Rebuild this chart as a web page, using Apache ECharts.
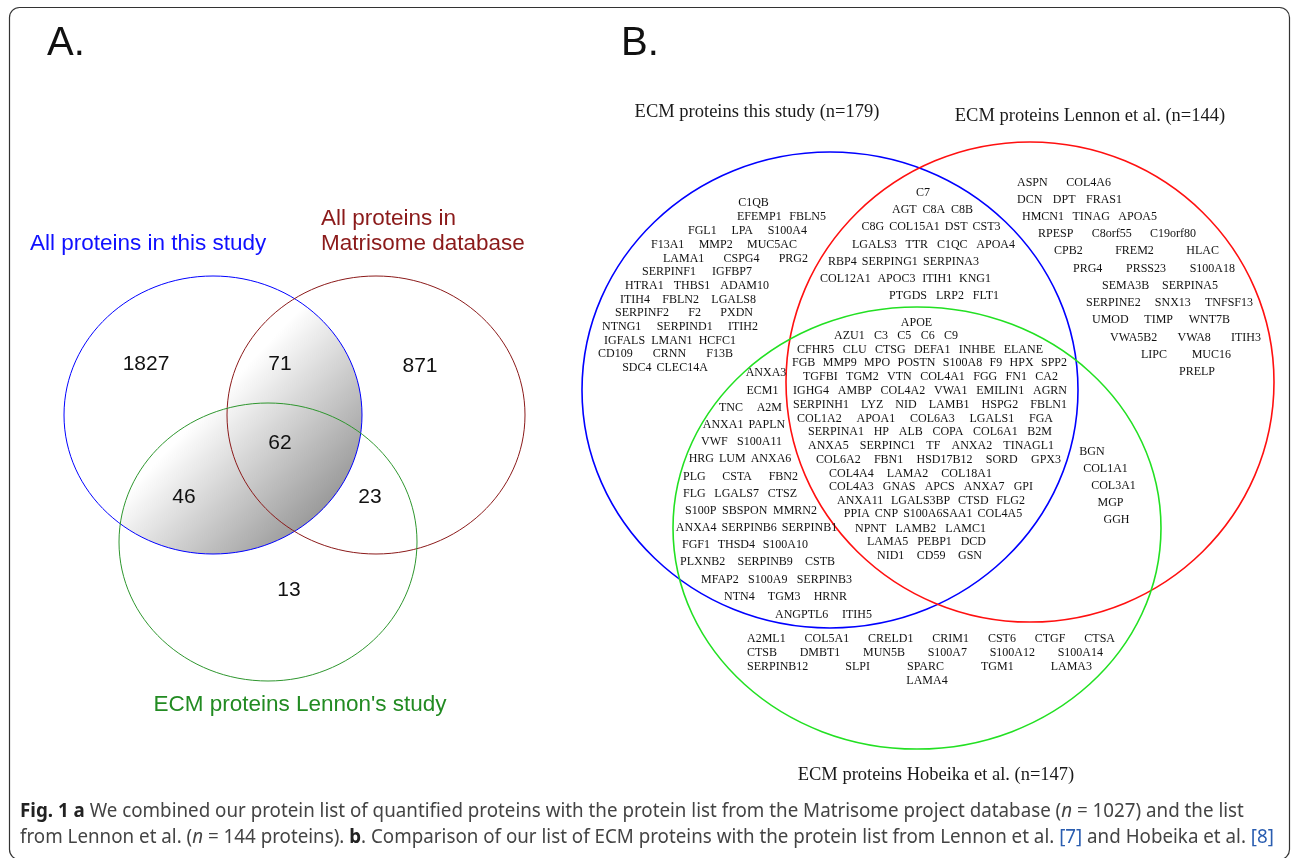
<!DOCTYPE html>
<html>
<head>
<meta charset="utf-8">
<script src="https://cdn.jsdelivr.net/npm/echarts@6/dist/echarts.min.js"></script>
<style>
html, body { margin: 0; padding: 0; background: #fff; }
#main { width: 1292px; height: 858px; }
</style>
</head>
<body>
<div id="main"></div>
<script>
// ---- panel A data ----
var setNamesA = ['All proteins in this study', 'All proteins in\nMatrisome database', "ECM proteins Lennon's study"];
var regionCountsA = [1827, 71, 871, 62, 46, 23, 13];

// ---- panel B data (rows of gene names per region) ----
var setTitlesB = ['ECM proteins this study (n=179)', 'ECM proteins Lennon et al. (n=144)', 'ECM proteins Hobeika et al. (n=147)'];
var onlyThisStudy = [
	['C1QB'], ['EFEMP1', 'FBLN5'], ['FGL1', 'LPA', 'S100A4'], ['F13A1', 'MMP2', 'MUC5AC'],
	['LAMA1', 'CSPG4', 'PRG2'], ['SERPINF1', 'IGFBP7'], ['HTRA1', 'THBS1', 'ADAM10'],
	['ITIH4', 'FBLN2', 'LGALS8'], ['SERPINF2', 'F2', 'PXDN'], ['NTNG1', 'SERPIND1', 'ITIH2'],
	['IGFALS', 'LMAN1', 'HCFC1'], ['CD109', 'CRNN', 'F13B'], ['SDC4', 'CLEC14A']
];
var thisStudyAndLennon = [
	['C7'], ['AGT', 'C8A', 'C8B'], ['C8G', 'COL15A1', 'DST', 'CST3'], ['LGALS3', 'TTR', 'C1QC', 'APOA4'],
	['RBP4', 'SERPING1', 'SERPINA3'], ['COL12A1', 'APOC3', 'ITIH1', 'KNG1'], ['PTGDS', 'LRP2', 'FLT1']
];
var onlyLennon = [
	['ASPN', 'COL4A6'], ['DCN', 'DPT', 'FRAS1'], ['HMCN1', 'TINAG', 'APOA5'], ['RPESP', 'C8orf55', 'C19orf80'],
	['CPB2', 'FREM2', 'HLAC'], ['PRG4', 'PRSS23', 'S100A18'], ['SEMA3B', 'SERPINA5'],
	['SERPINE2', 'SNX13', 'TNFSF13'], ['UMOD', 'TIMP', 'WNT7B'], ['VWA5B2', 'VWA8', 'ITIH3'],
	['LIPC', 'MUC16'], ['PRELP']
];
var inAllThree = [
	['APOE'], ['AZU1', 'C3', 'C5', 'C6', 'C9'], ['CFHR5', 'CLU', 'CTSG', 'DEFA1', 'INHBE', 'ELANE'],
	['FGB', 'MMP9', 'MPO', 'POSTN', 'S100A8', 'F9', 'HPX', 'SPP2'],
	['TGFBI', 'TGM2', 'VTN', 'COL4A1', 'FGG', 'FN1', 'CA2'],
	['IGHG4', 'AMBP', 'COL4A2', 'VWA1', 'EMILIN1', 'AGRN'],
	['SERPINH1', 'LYZ', 'NID', 'LAMB1', 'HSPG2', 'FBLN1'],
	['COL1A2', 'APOA1', 'COL6A3', 'LGALS1', 'FGA'],
	['SERPINA1', 'HP', 'ALB', 'COPA', 'COL6A1', 'B2M'],
	['ANXA5', 'SERPINC1', 'TF', 'ANXA2', 'TINAGL1'],
	['COL6A2', 'FBN1', 'HSD17B12', 'SORD', 'GPX3'],
	['COL4A4', 'LAMA2', 'COL18A1'], ['COL4A3', 'GNAS', 'APCS', 'ANXA7', 'GPI'],
	['ANXA11', 'LGALS3BP', 'CTSD', 'FLG2'], ['PPIA', 'CNP', 'S100A6SAA1', 'COL4A5'],
	['NPNT', 'LAMB2', 'LAMC1'], ['LAMA5', 'PEBP1', 'DCD'], ['NID1', 'CD59', 'GSN']
];
var thisStudyAndHobeika = [
	['ANXA3'], ['ECM1'], ['TNC', 'A2M'], ['ANXA1', 'PAPLN'], ['VWF', 'S100A11'], ['HRG', 'LUM', 'ANXA6'],
	['PLG', 'CSTA', 'FBN2'], ['FLG', 'LGALS7', 'CTSZ'], ['S100P', 'SBSPON', 'MMRN2'],
	['ANXA4', 'SERPINB6', 'SERPINB1'], ['FGF1', 'THSD4', 'S100A10'], ['PLXNB2', 'SERPINB9', 'CSTB'],
	['MFAP2', 'S100A9', 'SERPINB3'], ['NTN4', 'TGM3', 'HRNR'], ['ANGPTL6', 'ITIH5']
];
var lennonAndHobeika = [['BGN'], ['COL1A1'], ['COL3A1'], ['MGP'], ['GGH']];
var onlyHobeika = [
	['A2ML1', 'COL5A1', 'CRELD1', 'CRIM1', 'CST6', 'CTGF', 'CTSA'],
	['CTSB', 'DMBT1', 'MUN5B', 'S100A7', 'S100A12', 'S100A14'],
	['SERPINB12', 'SLPI', 'SPARC', 'TGM1', 'LAMA3'],
	['LAMA4']
];

// ---- layout (pixel-space data coords) ----
// ellipses: [cx, cy, rx, ry]
var ellipsesA = [[213, 415, 149, 139], [376, 415, 149, 139], [268, 542, 149, 139]];
var ellipseColorsA = ['#0000ff', '#8b1a1a', '#2e962e'];
var setLabelPosA = [[30, 244, 'left'], [321, 231.5, 'left'], [300, 705, 'center']];
var setLabelColorsA = ['#1010ff', '#8b1a1a', '#228b22'];
var countPosA = [[146, 364], [280, 364], [420, 366], [280, 443], [184, 497], [370, 497], [289, 590]];

var ellipsesB = [[830, 390, 248, 238], [1030, 382, 244, 240], [917, 528, 244, 221]];
var ellipseColorsB = ['#0000ff', '#ff1010', '#22e022'];
var titlePosB = [[757, 112], [1090, 116], [936, 775]];

// rows: [y, left edge, right edge]
var rowsOnlyThisStudy = [[203, 740, 767], [217, 737, 826], [231, 688, 807], [245, 651, 797], [259, 663, 808], [272, 642, 752], [286, 625, 769], [300, 620, 756], [313, 615, 753], [327, 602, 758], [341, 604, 736], [354, 598, 733], [368, 623, 707]];
var rowsThisStudyAndLennon = [[193, 917, 929], [210, 892, 973], [227, 863, 999], [245, 852, 1015], [262, 828, 979], [279, 820, 991], [296, 889, 999]];
var rowsOnlyLennon = [[183, 1017, 1111], [200, 1017, 1122], [217, 1022, 1157], [234, 1038, 1196], [251, 1054, 1219], [269, 1073, 1235], [286, 1102, 1218], [303, 1086, 1253], [320, 1092, 1230], [338, 1110, 1261], [355, 1141, 1231], [372, 1181, 1213]];
var rowsAllThree = [[323, 903, 930], [336, 834, 958], [350, 797, 1043], [363, 792, 1067], [377, 803, 1058], [391, 793, 1067], [405, 793, 1067], [419, 797, 1053], [432, 808, 1052], [446, 808, 1054], [460, 816, 1061], [474, 829, 992], [487, 829, 1033], [501, 837, 1025], [514, 845, 1021], [529, 855, 986], [542, 867, 986], [556, 877, 982]];
var rowsThisStudyAndHobeika = [[373, 748, 784], [391, 748, 777], [408, 719, 782], [425, 706, 782], [442, 701, 782], [459, 690, 790], [477, 683, 798], [494, 683, 797], [511, 685, 817], [528, 685, 828], [545, 682, 808], [562, 680, 835], [580, 701, 852], [597, 724, 847], [615, 775, 872]];
var rowsLennonAndHobeika = [[452, 1081, 1103], [469, 1086, 1125], [486, 1094, 1133], [503, 1099, 1122], [520, 1105, 1128]];
var rowsOnlyHobeika = [[639, 747, 1115], [653, 747, 1103], [667, 747, 1092], [681, 906, 948]];

var geneFont = "12px 'Liberation Serif'";
var minGap = 5;
var measureCtx = document.createElement('canvas').getContext('2d');
function textWidth(str, font) {
	measureCtx.font = font;
	return measureCtx.measureText(str).width;
}

// spread the words of each row between its left and right edge
function layoutRows(rows, anchors) {
	var out = [];
	rows.forEach(function(words, i) {
		var y = anchors[i][0], left = anchors[i][1], right = anchors[i][2];
		var widths = words.map(function(w) { return textWidth(w, geneFont); });
		if (words.length === 1) {
			out.push([(left + right) / 2, y, words[0]]);
			return;
		}
		var total = widths.reduce(function(a, b) { return a + b; }, 0);
		var gap = (right - left - total) / (words.length - 1);
		var x = left;
		if (gap < minGap) {
			// too tight: keep the row centred and use a small fixed gap
			gap = minGap;
			x = (left + right) / 2 - (total + gap * (words.length - 1)) / 2;
		}
		words.forEach(function(w, j) {
			out.push([x + widths[j] / 2, y, w]);
			x += widths[j] + gap;
		});
	});
	return out;
}

var geneItems = [].concat(
	layoutRows(onlyThisStudy, rowsOnlyThisStudy),
	layoutRows(thisStudyAndLennon, rowsThisStudyAndLennon),
	layoutRows(onlyLennon, rowsOnlyLennon),
	layoutRows(inAllThree, rowsAllThree),
	layoutRows(thisStudyAndHobeika, rowsThisStudyAndHobeika),
	layoutRows(lennonAndHobeika, rowsLennonAndHobeika),
	layoutRows(onlyHobeika, rowsOnlyHobeika)
);

// shaded part of panel A: blue ∩ (red ∪ green), traced by rays from a point inside all three
function insideEllipse(e, x, y) {
	var dx = (x - e[0]) / e[2], dy = (y - e[1]) / e[3];
	return dx * dx + dy * dy <= 1;
}
function insideShade(x, y) {
	return insideEllipse(ellipsesA[0], x, y) && (insideEllipse(ellipsesA[1], x, y) || insideEllipse(ellipsesA[2], x, y));
}
function shadeOutline() {
	var c = countPosA[3], pts = [];
	for (var k = 0; k < 720; k++) {
		var a = k / 720 * Math.PI * 2, lo = 0, hi = 400;
		for (var it = 0; it < 30; it++) {
			var mid = (lo + hi) / 2;
			if (insideShade(c[0] + mid * Math.cos(a), c[1] + mid * Math.sin(a))) lo = mid; else hi = mid;
		}
		pts.push([c[0] + lo * Math.cos(a), c[1] + lo * Math.sin(a)]);
	}
	return pts;
}
var shadePts = shadeOutline();
var shadeGrad = [221, 393, 335, 500];

var sansFont = "'Liberation Sans', Arial, sans-serif";
var serifFont = "'Liberation Serif', 'Times New Roman', serif";
var capFont = "'Noto Sans', sans-serif";

// caption: a normal sans squeezed horizontally to look like the condensed journal font
var capLine1 = 'Fig. 1 a We combined our protein list of quantified proteins with the protein list from the Matrisome project database (n = 1027) and the list';
var capSize = 19;
var capScale = 1222 / textWidth(capLine1, capSize + 'px ' + capFont);
var capText = '{b|Fig. 1 a} We combined our protein list of quantified proteins with the protein list from the Matrisome project database ({i|n} = 1027) and the list\n' +
	'from Lennon et al. ({i|n} = 144 proteins). {b|b}. Comparison of our list of ECM proteins with the protein list from Lennon et al. {l|[7]} and Hobeika et al. {l|[8]}';

var myChart = echarts.init(document.getElementById('main'));

function ellipseSeries(list, colors, width) {
	return {
		type: 'custom',
		coordinateSystem: 'cartesian2d',
		silent: true,
		z: 3,
		data: list,
		renderItem: function(params, api) {
			var p = api.coord([api.value(0), api.value(1)]);
			var s = api.size([api.value(2), api.value(3)]);
			return {
				type: 'ellipse',
				shape: { cx: p[0], cy: p[1], rx: s[0], ry: s[1] },
				style: { fill: 'none', stroke: colors[params.dataIndex], lineWidth: width }
			};
		}
	};
}

var option = {
	animation: false,
	grid: { left: 0, right: 0, top: 0, bottom: 0, containLabel: false },
	xAxis: { type: 'value', min: 0, max: 1292, show: false },
	yAxis: { type: 'value', min: 0, max: 858, inverse: true, show: false },
	graphic: [
		{
			type: 'rect', silent: true,
			shape: { x: 9.5, y: 7.5, width: 1280, height: 852, r: 10 },
			style: { fill: 'none', stroke: '#333', lineWidth: 1.2 }
		},
		{ type: 'text', left: 47, top: 24, style: { text: 'A.', font: '40px ' + sansFont, fill: '#111' } },
		{ type: 'text', left: 621, top: 24, style: { text: 'B.', font: '40px ' + sansFont, fill: '#111' } },
		{
			type: 'text', x: 20, y: 799, scaleX: capScale, scaleY: 1,
			style: {
				text: capText,
				fontSize: capSize, fontFamily: capFont, fill: '#444', lineHeight: 26,
				rich: {
					b: { fontSize: capSize, fontFamily: capFont, fontWeight: 'bold', fill: '#222', lineHeight: 26 },
					i: { fontSize: capSize, fontFamily: capFont, fontStyle: 'italic', fill: '#444', lineHeight: 26 },
					l: { fontSize: capSize, fontFamily: capFont, fill: '#2a5db0', lineHeight: 26 }
				}
			}
		}
	],
	series: [
		// shaded overlap in panel A
		{
			type: 'custom',
			coordinateSystem: 'cartesian2d',
			silent: true,
			z: 2,
			data: [[0]],
			renderItem: function(params, api) {
				var pts = shadePts.map(function(p) { return api.coord(p); });
				var g0 = api.coord([shadeGrad[0], shadeGrad[1]]), g1 = api.coord([shadeGrad[2], shadeGrad[3]]);
				return {
					type: 'polygon',
					shape: { points: pts },
					style: {
						fill: new echarts.graphic.LinearGradient(g0[0], g0[1], g1[0], g1[1], [
							{ offset: 0, color: '#ffffff' },
							{ offset: 1, color: '#999999' }
						], true)
					}
				};
			}
		},
		ellipseSeries(ellipsesA, ellipseColorsA, 1),
		ellipseSeries(ellipsesB, ellipseColorsB, 1.6),
		// panel A set labels
		{
			type: 'custom', coordinateSystem: 'cartesian2d', silent: true, z: 4,
			data: setLabelPosA.map(function(p) { return [p[0], p[1]]; }),
			renderItem: function(params, api) {
				var p = api.coord([api.value(0), api.value(1)]);
				return {
					type: 'text', x: p[0], y: p[1],
					style: {
						text: setNamesA[params.dataIndex], fill: setLabelColorsA[params.dataIndex],
						font: '22.5px ' + sansFont, lineHeight: 25,
						align: setLabelPosA[params.dataIndex][2], verticalAlign: 'middle'
					}
				};
			}
		},
		// panel A counts
		{
			type: 'custom', coordinateSystem: 'cartesian2d', silent: true, z: 4,
			data: countPosA.map(function(p, i) { return [p[0], p[1], regionCountsA[i]]; }),
			renderItem: function(params, api) {
				var p = api.coord([api.value(0), api.value(1)]);
				return {
					type: 'text', x: p[0], y: p[1],
					style: { text: String(api.value(2)), fill: '#111', font: '21px ' + sansFont, align: 'center', verticalAlign: 'middle' }
				};
			}
		},
		// panel B set titles
		{
			type: 'custom', coordinateSystem: 'cartesian2d', silent: true, z: 4,
			data: titlePosB,
			renderItem: function(params, api) {
				var p = api.coord([api.value(0), api.value(1)]);
				return {
					type: 'text', x: p[0], y: p[1],
					style: { text: setTitlesB[params.dataIndex], fill: '#1a1a1a', font: '18.5px ' + serifFont, align: 'center', verticalAlign: 'middle' }
				};
			}
		},
		// panel B gene names
		{
			type: 'custom', coordinateSystem: 'cartesian2d', silent: true, z: 4,
			data: geneItems.map(function(g) { return [g[0], g[1]]; }),
			renderItem: function(params, api) {
				var p = api.coord([api.value(0), api.value(1)]);
				return {
					type: 'text', x: p[0], y: p[1],
					style: { text: geneItems[params.dataIndex][2], fill: '#111', font: geneFont, align: 'center', verticalAlign: 'middle' }
				};
			}
		}
	]
};

myChart.setOption(option);
</script>
</body>
</html>
